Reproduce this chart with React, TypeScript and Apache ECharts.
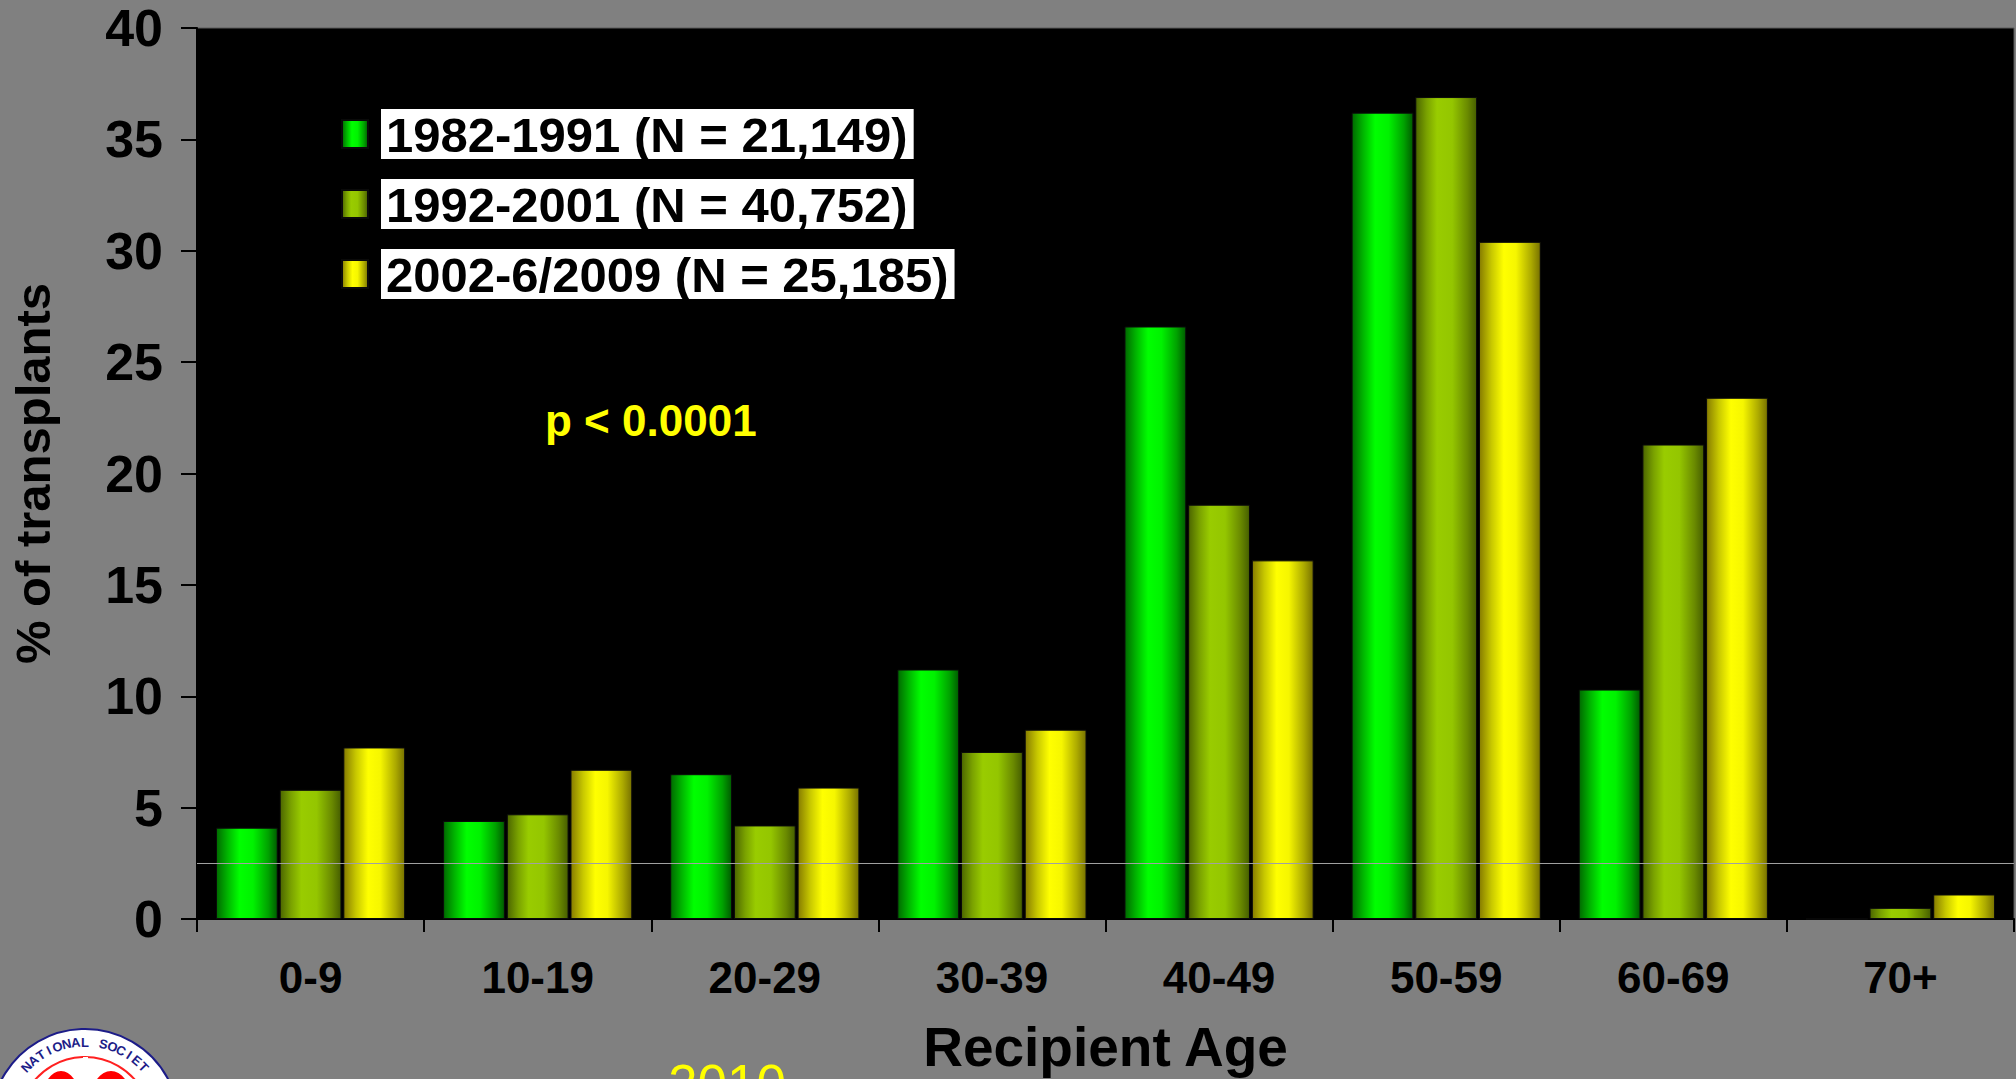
import React, { useEffect, useRef } from "react";
import * as echarts from "echarts";

const categories = ["0-9", "10-19", "20-29", "30-39", "40-49", "50-59", "60-69", "70+"];
const seriesNames = [
  "1982-1991 (N = 21,149)",
  "1992-2001 (N = 40,752)",
  "2002-6/2009 (N = 25,185)",
];
const era1 = [4.1, 4.4, 6.5, 11.2, 26.6, 36.2, 10.3, 0];
const era2 = [5.8, 4.7, 4.2, 7.5, 18.6, 36.9, 21.3, 0.5];
const era3 = [7.7, 6.7, 5.9, 8.5, 16.1, 30.4, 23.4, 1.1];
const yTicks = { min: 0, max: 40, interval: 5 };
const refLineValue = 2.5;
const annotation = "p < 0.0001";
const yearLabel = "2010";
const logoTop = "INTERNATIONAL SOCIETY FOR";

const FONT = "'Liberation Sans', Arial, Helvetica, sans-serif";

function grad(stops: [number, string][]) {
  return new echarts.graphic.LinearGradient(
    0, 0, 1, 0,
    stops.map(([offset, color]) => ({ offset, color }))
  );
}

const greenGrad = () =>
  grad([
    [0, "#006a00"], [0.18, "#00b400"], [0.38, "#00ff00"], [0.6, "#00f200"], [0.85, "#00a200"], [1, "#005c00"],
  ]);
const oliveGrad = () =>
  grad([
    [0, "#4c6600"], [0.18, "#7aa200"], [0.35, "#99cc00"], [0.6, "#94c600"], [0.85, "#6a8a00"], [1, "#465e00"],
  ]);
const yellowGrad = () =>
  grad([
    [0, "#867c00"], [0.2, "#c8c800"], [0.4, "#ffff00"], [0.6, "#f6f600"], [0.85, "#acaa00"], [1, "#787200"],
  ]);

function logoGraphics() {
  const cx = 85;
  const cy = 1123;
  const els: any[] = [
    {
      type: "circle",
      shape: { cx, cy, r: 94 },
      style: { fill: "#ffffff", stroke: "#1c1c88", lineWidth: 2 },
      silent: true,
    },
    {
      type: "circle",
      shape: { cx, cy, r: 66 },
      style: { fill: "#ffffff", stroke: "#ff2020", lineWidth: 2 },
      silent: true,
    },
    {
      type: "ellipse",
      shape: { cx: cx - 24, cy: cy + 8, rx: 26, ry: 60 },
      style: { fill: "#ff0000" },
      silent: true,
    },
    {
      type: "ellipse",
      shape: { cx: cx + 26, cy: cy + 8, rx: 28, ry: 60 },
      style: { fill: "#ff0000" },
      silent: true,
    },
    {
      type: "rect",
      shape: { x: cx - 2, y: cy - 66, width: 5, height: 70 },
      style: { fill: "#ffffff" },
      silent: true,
    },
  ];
  const R = 81;
  const n = logoTop.length;
  const step = 6.6 * (Math.PI / 180);
  for (let i = 0; i < n; i++) {
    const th = -((n - 1) / 2) * step + i * step;
    const y = cy - R * Math.cos(th);
    if (y > 1071) continue;
    els.push({
      type: "text",
      x: cx + R * Math.sin(th),
      y,
      rotation: -th,
      silent: true,
      style: {
        text: logoTop[i],
        fill: "#1c1c88",
        font: `bold 13px ${FONT}`,
        align: "center",
        verticalAlign: "middle",
      },
    });
  }
  return els;
}

export default function App() {
  const ref = useRef<HTMLDivElement>(null);

  useEffect(() => {
    if (!ref.current) return;
    const chart = echarts.init(ref.current, undefined, { renderer: "svg" });
    const barBase = {
      type: "bar" as const,
      barGap: "3%",
      barCategoryGap: "16.7%",
      z: 2,
    };
    chart.setOption({
      animation: false,
      backgroundColor: "#808080",
      textStyle: { fontFamily: FONT },
      grid: {
        left: 197,
        right: 2,
        top: 28,
        bottom: 157,
        show: true,
        backgroundColor: "#000000",
        borderColor: "#5a5a5a",
        borderWidth: 1,
        containLabel: false,
      },
      legend: {
        show: true,
        orient: "vertical",
        left: 336,
        top: 104,
        itemWidth: 26,
        itemHeight: 28,
        itemGap: 20,
        selectedMode: false,
        icon: "rect",
        data: seriesNames,
        formatter: (name: string) => `{s|}{t|${name}}`,
        textStyle: {
          rich: {
            s: { width: 8 },
            t: {
              fontFamily: FONT,
              fontSize: 49,
              fontWeight: "bold",
              color: "#000000",
              backgroundColor: "#ffffff",
              padding: [1, 6, 0, 5],
              lineHeight: 49,
            },
          },
        },
      },
      xAxis: {
        type: "category",
        data: categories,
        boundaryGap: true,
        name: "Recipient Age",
        nameLocation: "middle",
        nameGap: 100,
        nameTextStyle: { fontFamily: FONT, fontSize: 55, fontWeight: "bold", color: "#000" },
        axisLine: { show: true, lineStyle: { color: "#000", width: 2 } },
        axisTick: { show: true, length: 13, alignWithLabel: false, lineStyle: { color: "#000", width: 2 } },
        axisLabel: { margin: 36, fontFamily: FONT, fontSize: 44, fontWeight: "bold", color: "#000" },
        splitLine: { show: false },
      },
      yAxis: {
        type: "value",
        min: yTicks.min,
        max: yTicks.max,
        interval: yTicks.interval,
        name: "% of transplants",
        nameLocation: "middle",
        nameRotate: 90,
        nameGap: 140,
        nameTextStyle: { fontFamily: FONT, fontSize: 49, fontWeight: "bold", color: "#000" },
        axisLine: { show: true, lineStyle: { color: "#000", width: 2 } },
        axisTick: { show: true, length: 16, lineStyle: { color: "#000", width: 2 } },
        axisLabel: { margin: 34, fontFamily: FONT, fontSize: 52, fontWeight: "bold", color: "#000" },
        splitLine: { show: false },
      },
      series: [
        {
          ...barBase,
          name: seriesNames[0],
          data: era1,
          itemStyle: { color: greenGrad(), borderColor: "#0a0a0a", borderWidth: 1 },
        },
        {
          ...barBase,
          name: seriesNames[1],
          data: era2,
          itemStyle: { color: oliveGrad(), borderColor: "#0a0a0a", borderWidth: 1 },
        },
        {
          ...barBase,
          name: seriesNames[2],
          data: era3,
          itemStyle: { color: yellowGrad(), borderColor: "#0a0a0a", borderWidth: 1 },
        },
        {
          type: "line",
          name: "ref",
          data: [],
          z: 1,
          silent: true,
          markLine: {
            silent: true,
            symbol: ["none", "none"],
            label: { show: false },
            lineStyle: { color: "#a0a0a0", width: 1, type: "solid" },
            data: [{ yAxis: refLineValue }],
          },
        },
      ],
      graphic: [
        {
          type: "text",
          left: 545,
          top: 398,
          silent: true,
          style: {
            text: annotation,
            fill: "#ffff00",
            font: `bold 44px ${FONT}`,
          },
        },
        {
          type: "text",
          left: 668,
          top: 1057,
          silent: true,
          style: {
            text: yearLabel,
            fill: "#ffff00",
            font: `53px ${FONT}`,
          },
        },
        ...logoGraphics(),
      ],
    });
    return () => chart.dispose();
  }, []);

  return (
    <div
      ref={ref}
      style={{ position: "fixed", left: 0, top: 0, width: 2016, height: 1079 }}
    />
  );
}
